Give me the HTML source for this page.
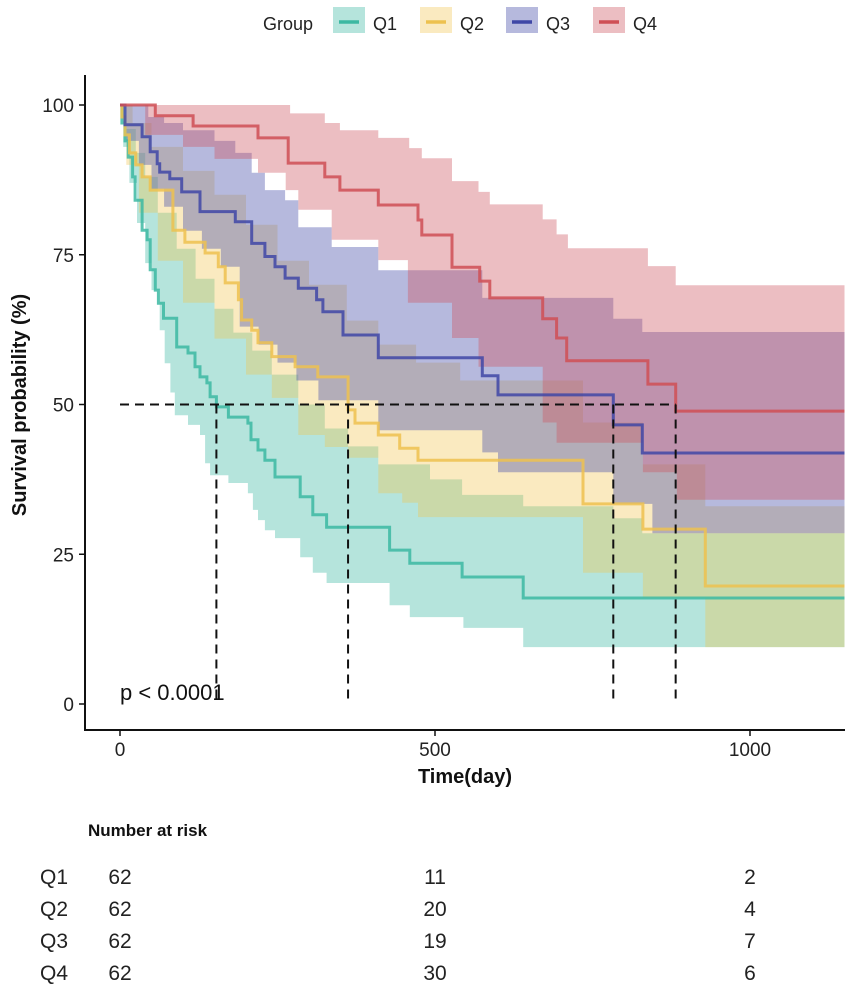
<!DOCTYPE html>
<html><head><meta charset="utf-8"><style>
body{margin:0;background:#fff;}
svg{display:block;font-family:"Liberation Sans",Arial,sans-serif;}
</style></head><body>
<svg id="chart" width="851" height="997" viewBox="0 0 851 997">
<g id="legend">
<text x="263" y="30" font-size="18" fill="#222">Group</text>
</g>
<g id="fills"></g>
<g id="lines"></g>
<g id="median"></g>
<g id="axes"></g>
<text x="120" y="700" font-size="22" fill="#111">p &lt; 0.0001</text>
<text x="465" y="783" font-size="20" font-weight="bold" text-anchor="middle" fill="#111">Time(day)</text>
<text transform="translate(26,405) rotate(-90)" font-size="20" font-weight="bold" text-anchor="middle" fill="#111">Survival probability (%)</text>
<text x="88" y="836" font-size="17" font-weight="bold" fill="#111">Number at risk</text>
<g id="risk"></g>
</svg>
<script>
const groups=["Q1","Q2","Q3","Q4"];
const colors=["#3cb8a2","#edc14f","#3f47a6","#cf4f55"];
const fillCol=["rgba(60,184,162,0.38)","rgba(240,196,80,0.36)","rgba(80,88,175,0.42)","rgba(205,85,95,0.38)"];
const q1T=[0,3,8,13,20,24,35,43,48,56,61,69,90,108,119,127,138,143,153,172,203,208,219,230,246,286,306,328,428,460,543,640];
const q1S=[100,97,94,91.3,88,84.1,79.1,77.5,72.5,69.1,66.9,64.4,59.6,58.6,56.3,54.6,53.6,51.3,49.6,47.9,46.9,44.1,42.4,40.7,37.9,34.6,31.6,29.5,25.7,23.5,21.2,17.7];
const q1UT=[0,10,25,40,60,90,120,150,180,210,241,283,325,362,410,492,543,640,783,829];
const q1U=[100,96,92,88,82,76,71,66,62,59,55,50,46,43,40,37.5,34.9,33,31,28.5];
const q1LT=[0,5,15,27,40,50,63,71,80,87,108,127,135,143,172,203,211,219,230,246,286,306,328,428,460,545,640];
const q1L=[100,93,87,80.3,73.6,69.1,62.4,56.9,52,48.2,46.6,44.9,40.2,38.2,36.9,35.2,32.4,30.7,29,27.7,24.5,21.9,20.2,16.5,14.5,12.7,9.5];
const q2T=[0,3,8,15,25,35,48,84,103,135,156,167,188,193,209,219,241,278,314,362,373,410,444,473,735,830,929];
const q2S=[100,98,95,92,90,88,85.8,79.1,77.1,75.3,73,70.3,67.5,64.1,62.4,60.3,58,56.3,54.6,49.1,46.9,44.9,42.7,40.7,33.4,29.2,19.7];
const q2UT=[0,20,50,100,150,200,250,300,360,410,470,540,735,830,929];
const q2U=[100,97,93,89,85,80,74,70,64,60,57,54,47,40,33];
const q2LT=[0,10,30,60,100,150,200,241,283,325,362,410,448,473,735,830,929];
const q2L=[100,90,82,74,67,61,55,51.1,44.9,42.9,41.1,35.2,33.6,31.2,21.9,17.7,9.5];
const q3T=[0,8,35,48,59,63,79,98,127,183,209,230,246,262,283,312,322,354,410,575,600,783,829];
const q3S=[100,96.7,94.7,92.2,90.2,88.8,87.7,85.5,82.2,80.5,76.9,74.7,73,71.1,69.4,67.5,65.5,61.6,57.8,54.8,51.6,46.6,41.9];
const q3UT=[0,45,70,100,150,183,209,230,262,283,336,410,575,783,829];
const q3U=[100,98,97,95.8,94,92,88.7,85.8,84.1,79.6,76.3,72.4,67.8,64.3,62.1];
const q3LT=[0,10,30,50,70,100,130,160,190,220,250,280,315,410,575,600,783,845];
const q3L=[100,94,90,86,83,79,76,73,63,60,57,54,50.7,45.7,42,38.7,33.4,28.5];
const q4T=[0,56,116,219,267,325,349,410,473,479,527,571,587,671,693,709,838,882];
const q4S=[100,98.2,96.5,94.5,90.3,88,85.8,83.3,80.8,78.3,72.9,70.6,67.8,64.3,61.1,57.3,53.4,48.9];
const q4UT=[0,270,325,349,410,459,479,527,569,587,671,693,711,838,882];
const q4U=[100,98.6,97,95.8,94.5,92.8,91.1,87.3,85.5,83.4,80.9,78.4,76.1,73.1,69.9];
const q4LT=[0,40,100,150,219,263,283,336,410,457,527,569,671,693,830,884];
const q4L=[100,95,93,91,88.7,85.8,82.5,77.5,74.1,67,61.1,56.3,47,43.6,38.7,34.1];
const series=[[q1T,q1S,q1UT,q1U,q1LT,q1L],[q2T,q2S,q2UT,q2U,q2LT,q2L],[q3T,q3S,q3UT,q3U,q3LT,q3L],[q4T,q4S,q4UT,q4U,q4LT,q4L]];
const medians=[153,362,783,882];
const xTicks=[0,500,1000];
const yTicks=[0,25,50,75,100];
const riskTimes=[0,500,1000];
const riskQ1=[62,11,2];
const riskQ2=[62,20,4];
const riskQ3=[62,19,7];
const riskQ4=[62,30,6];
const riskRows=[riskQ1,riskQ2,riskQ3,riskQ4];

const TMAX=1150;
const X=t=>120+t*0.63;
const Y=s=>704-s*5.99;
const NS="http://www.w3.org/2000/svg";
function mk(tag,attrs,parent){const e=document.createElementNS(NS,tag);for(const k in attrs)e.setAttribute(k,attrs[k]);parent.appendChild(e);return e;}
function stepPts(T,S){const p=[];for(let i=0;i<T.length;i++){if(i>0)p.push([X(T[i]),Y(S[i-1])]);p.push([X(T[i]),Y(S[i])]);}p.push([X(TMAX),Y(S[S.length-1])]);return p;}
const fills=document.getElementById('fills'),lines=document.getElementById('lines');
series.forEach((s,g)=>{
  const up=stepPts(s[2],s[3]),lo=stepPts(s[4],s[5]).reverse();
  const d="M"+up.concat(lo).map(p=>p[0].toFixed(1)+","+p[1].toFixed(1)).join("L")+"Z";
  const r=mk('path',{d:d,fill:fillCol[g],stroke:'none'},fills);
  
  
});
series.forEach((s,g)=>{
  const pts=stepPts(s[0],s[1]);
  const l=mk('path',{d:"M"+pts.map(p=>p[0].toFixed(1)+","+p[1].toFixed(1)).join("L"),fill:'none',stroke:colors[g],'stroke-width':3,'stroke-opacity':0.85},lines);
  
  
});
const med=document.getElementById('median');
const mmax=Math.max(...medians);
const h=mk('line',{x1:X(0),y1:Y(50),x2:X(mmax),y2:Y(50),stroke:'#111','stroke-width':2,'stroke-dasharray':'9,6'},med);


medians.forEach((m,i)=>{
  const v=mk('line',{x1:X(m),y1:Y(50),x2:X(m),y2:Y(0),stroke:'#111','stroke-width':2,'stroke-dasharray':'9,6'},med);
  
  
});
const ax=document.getElementById('axes');
const yl=mk('line',{x1:85,y1:75,x2:85,y2:731,stroke:'#111','stroke-width':2},ax);


const xl=mk('line',{x1:84,y1:730,x2:845,y2:730,stroke:'#111','stroke-width':2},ax);


yTicks.forEach(v=>{
  const t=mk('line',{x1:79,y1:Y(v),x2:85,y2:Y(v),stroke:'#111','stroke-width':1.5},ax);
  
  
  const tx=mk('text',{x:74,y:Y(v)+7,'font-size':19,'text-anchor':'end',fill:'#222'},ax);
  tx.textContent=v;
  
  
});
xTicks.forEach(v=>{
  const t=mk('line',{x1:X(v),y1:730,x2:X(v),y2:736,stroke:'#111','stroke-width':1.5},ax);
  
  
  const tx=mk('text',{x:X(v),y:756,'font-size':19,'text-anchor':'middle',fill:'#222'},ax);
  tx.textContent=v;
  
  
});
const lg=document.getElementById('legend');
const lx=[349,436,522,609];
groups.forEach((g,i)=>{
  const r=mk('rect',{x:lx[i]-16,y:7,width:32,height:26,fill:fillCol[i]},lg);
  
  
  const l=mk('line',{x1:lx[i]-10,y1:22,x2:lx[i]+10,y2:22,stroke:colors[i],'stroke-width':3.5},lg);
  
  
  const t=mk('text',{x:lx[i]+24,y:30,'font-size':18,fill:'#222'},lg);
  t.textContent=g;
  
  
});
const rk=document.getElementById('risk');
const rowY=[884,916,948,980];
riskRows.forEach((row,i)=>{
  const lab=mk('text',{x:40,y:rowY[i],'font-size':21,fill:'#222'},rk);
  lab.textContent=groups[i];
  
  
  row.forEach((v,j)=>{
    const t=mk('text',{x:X(riskTimes[j]),y:rowY[i],'font-size':21,'text-anchor':'middle',fill:'#222'},rk);
    t.textContent=v;
    
    
  });
});
</script>
</body></html>
